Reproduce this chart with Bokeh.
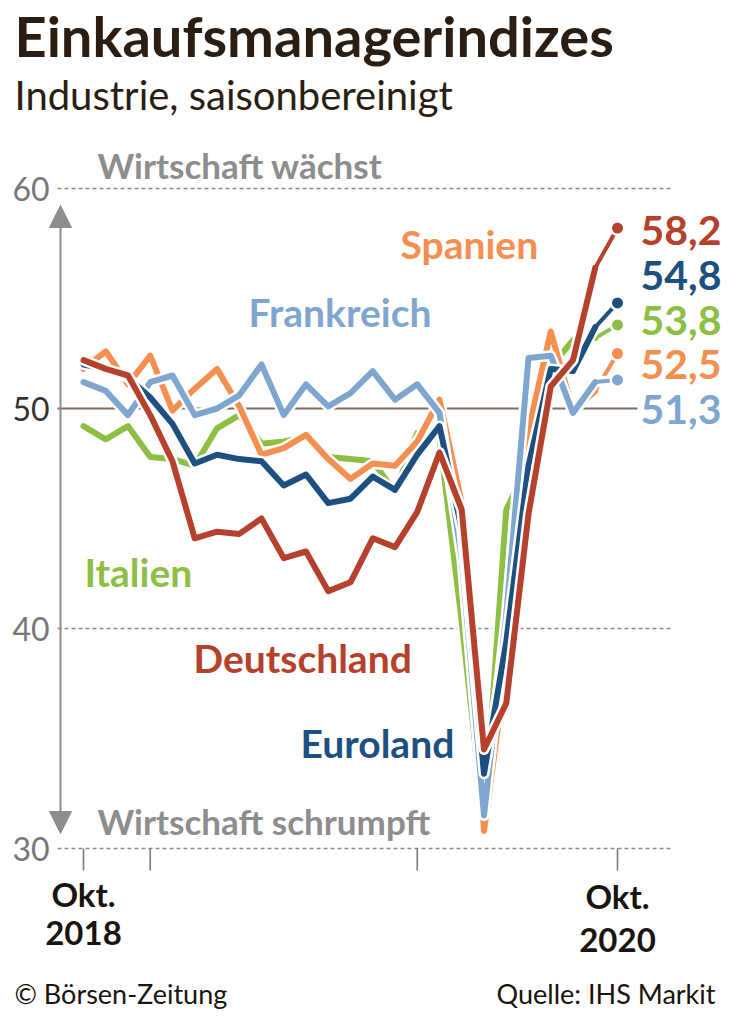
from bokeh.plotting import figure
from bokeh.models import Range1d, Arrow, NormalHead
from bokeh.core.properties import value
from bokeh.embed import file_html
from bokeh.resources import INLINE

# ---------------- data ----------------
months = list(range(25))  # Okt. 2018 .. Okt. 2020
deutschland = [52.2, 51.8, 51.5, 49.7, 47.6, 44.1, 44.4, 44.3, 45.0, 43.2, 43.5, 41.7, 42.1,
               44.1, 43.7, 45.3, 48.0, 45.4, 34.5, 36.6, 45.2, 51.0, 52.2, 56.4, 58.2]
euroland = [52.0, 51.8, 51.4, 50.5, 49.3, 47.5, 47.9, 47.7, 47.6, 46.5, 47.0, 45.7, 45.9,
            46.9, 46.3, 47.9, 49.2, 44.5, 33.4, 39.4, 47.4, 51.8, 51.7, 53.7, 54.8]
frankreich = [51.2, 50.8, 49.7, 51.2, 51.5, 49.7, 50.0, 50.6, 52.0, 49.7, 51.1, 50.1, 50.7,
              51.7, 50.4, 51.1, 49.8, 43.2, 31.5, 40.6, 52.3, 52.4, 49.8, 51.2, 51.3]
italien = [49.2, 48.6, 49.2, 47.8, 47.7, 47.4, 49.1, 49.7, 48.4, 48.5, 48.7, 47.8, 47.7,
           47.6, 46.2, 48.9, 48.7, 40.3, 31.1, 45.4, 47.5, 51.9, 53.1, 53.2, 53.8]
spanien = [51.8, 52.6, 51.1, 52.4, 49.9, 50.9, 51.8, 50.1, 47.9, 48.2, 48.8, 47.7, 46.8,
           47.5, 47.4, 48.5, 50.4, 45.7, 30.8, 38.3, 49.0, 53.5, 49.9, 50.8, 52.5]

y_ticks = [30, 40, 50, 60]
x_ticks = [0, 3, 15, 24]
x_tick_labels = {0: "Okt.\n2018", 24: "Okt.\n2020"}

# ---------------- layout helpers (reference pixels -> data) ----------------
X0, DX = 83.0, 22.25      # pixel of month 0, pixels per month
Y50, DY = 408.0, 22.0     # pixel of value 50, pixels per index point

def px(xr):
    return (xr - X0) / DX

def py(yr):
    return 50.0 - (yr - Y50) / DY

W, H = 750, 1016
p = figure(width=W, height=H, output_backend="svg", toolbar_location=None,
           x_range=Range1d(px(0), px(W)), y_range=Range1d(py(H), py(0)),
           x_axis_location=None, y_axis_location=None, min_border=0,
           outline_line_color=None, background_fill_color="white",
           border_fill_color="white")
p.xgrid.visible = False
p.ygrid.visible = False

FONT = value("Lato")
GRAY = "#8d8d8d"
DARK = "#2b1d12"

def label(x, y, txt, size, color, bold=True, align="left"):
    p.text(x=[px(x)], y=[py(y)], text=[txt], text_font=FONT, text_font_size=f"{size}px",
           text_font_style="bold" if bold else "normal", text_color=color,
           text_align=align, text_baseline="middle")

# ---------------- grid ----------------
for v in y_ticks:
    if v == 50:
        p.segment(x0=[px(57)], y0=[v], x1=[px(637)], y1=[v], line_color="#7d6b60", line_width=2)
    else:
        p.segment(x0=[px(57)], y0=[v], x1=[px(672)], y1=[v], line_color="#8a8a8a",
                  line_width=1.3, line_dash="4 3")

# y tick labels
p.text(x=[px(49)] * len(y_ticks), y=y_ticks, text=[str(v) for v in y_ticks],
       text_font=FONT, text_font_size="32px", text_align="right", text_baseline="middle",
       text_color=["#777777", "#777777", "#333333", "#777777"])

# x ticks
p.segment(x0=x_ticks, y0=[30] * len(x_ticks), x1=x_ticks, y1=[py(870)] * len(x_ticks),
          line_color="#7a7a7a", line_width=1.6)
x_label_mid = {0: (893, 932), 24: (895, 939)}
for k, lab in x_tick_labels.items():
    l1, l2 = lab.split("\n")
    y1, y2 = x_label_mid[k]
    for txt, yy in ((l1, y1), (l2, y2)):
        p.text(x=[k], y=[py(yy)], text=[txt], text_font=FONT, text_font_size="33px",
               text_font_style="bold", text_align="center", text_baseline="middle",
               text_color="#1a1410")

# arrow
p.add_layout(Arrow(x_start=px(60), y_start=py(833), x_end=px(60), y_end=py(205),
                   line_color=GRAY, line_width=2,
                   start=NormalHead(size=22, fill_color=GRAY, line_color=GRAY),
                   end=NormalHead(size=22, fill_color=GRAY, line_color=GRAY)))

label(97, 164, "Wirtschaft wächst", 35, GRAY)
label(97, 820, "Wirtschaft schrumpft", 35, GRAY)

# ---------------- series ----------------
series = [
    ("Italien", italien, "#8dbf45", (84, 571), 320),
    ("Spanien", spanien, "#f58f4f", (400, 243), 364),
    ("Frankreich", frankreich, "#7fa6cf", (248, 311), 409),
    ("Euroland", euroland, "#1d4f80", (300, 742), 275),
    ("Deutschland", deutschland, "#b5402c", (193, 657), 230),
]

for name, vals, col, (lx, ly), vy in series:
    p.line(months, vals, line_color="white", line_width=11, line_join="round", line_cap="round")
    p.line(months[:-1], vals[:-1], line_color=col, line_width=6, line_join="round",
           line_cap="round")
    p.line(months[-2:], vals[-2:], line_color=col, line_width=4, line_join="round",
           line_cap="round")
    p.scatter([months[-1]], [vals[-1]], size=16, fill_color="white", line_color=None)
    p.scatter([months[-1]], [vals[-1]], size=11, fill_color=col, line_color=None)
    label(lx, ly, name, 39, col)
    label(640, vy, f"{vals[-1]:.1f}".replace(".", ","), 41, col)

# ---------------- titles & footer ----------------
label(14, 35, "Einkaufsmanagerindizes", 56, DARK)
label(14, 94, "Industrie, saisonbereinigt", 40, DARK, bold=False)
label(14, 993, "© Börsen-Zeitung", 27, "#1a1410", bold=False)
label(715, 993, "Quelle: IHS Markit", 27, "#1a1410", bold=False, align="right")

open("out.html", "w").write(file_html(p, INLINE))
